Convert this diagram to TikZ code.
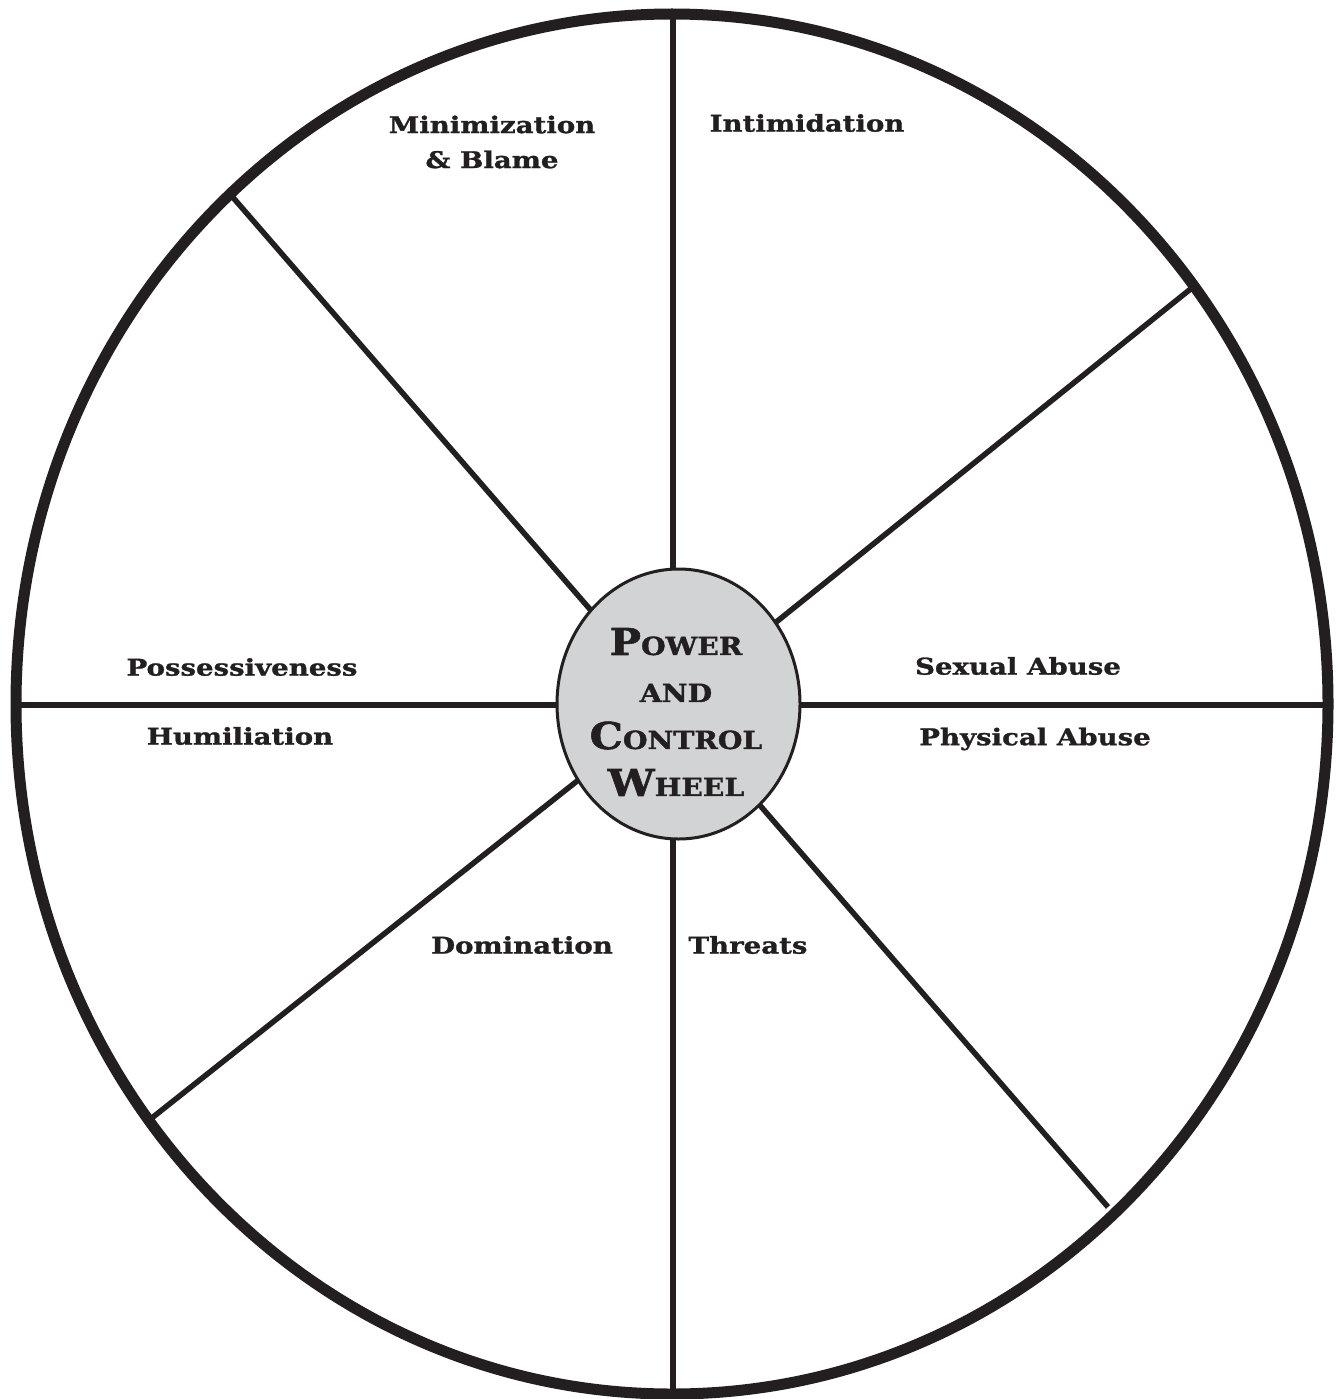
\documentclass[tikz,border=0pt]{standalone}
\usepackage{fontspec}
\usetikzlibrary{shapes.geometric}
\setmainfont{DejaVu Serif}
\newfontfamily\widefont[FakeStretch=1.2,FakeBold=1.2]{DejaVu Serif}
\newfontfamily\hubfont[FakeStretch=1.13,FakeBold=1.5]{DejaVu Serif}
\newcommand{\hubbig}[1]{{\fontsize{37}{47}\selectfont #1}}
\newcommand{\hubsmall}[1]{{\fontsize{25}{47}\selectfont #1}}
\begin{document}
\begin{tikzpicture}[x=1pt,y=-1pt,
  rim/.style={line width=11pt,draw={rgb,255:red,35;green,31;blue,32}},
  spoke/.style={line width=5.5pt,draw={rgb,255:red,35;green,31;blue,32}},
  lab/.style={font=\widefont\bfseries\fontsize{23}{35}\selectfont,text={rgb,255:red,35;green,31;blue,32},align=center,inner sep=0pt},
  hubstyle/.style={ellipse,draw={rgb,255:red,35;green,31;blue,32},line width=3pt,fill={rgb,255:red,209;green,211;blue,212},minimum width=243pt,minimum height=270pt,inner sep=0pt},
  hubtxt/.style={font=\hubfont\bfseries\fontsize{25}{47}\selectfont,text={rgb,255:red,35;green,31;blue,32},align=center,inner sep=0pt}
]
\useasboundingbox (0,0) rectangle (1340,1399);
\fill[white] (0,0) rectangle (1340,1399);
\coordinate (c) at (673,705);
\coordinate (oT) at (673,14);
\coordinate (oB) at (673,1396);
\coordinate (oL) at (16,705);
\coordinate (oR) at (1328,705);
\coordinate (oUL) at (230,194);
\coordinate (oUR) at (1193,287);
\coordinate (oLL) at (148,1121);
\coordinate (eLR) at (1108,1207);
\foreach \p in {oT,oB,oL,oR,oUL,oUR,oLL,eLR}{\draw[spoke] (c) -- (\p);}
\draw[rim] (672,704) ellipse [x radius=656pt, y radius=690pt];
\node[hubstyle] (hub) at (678.5,704) {};
\node[hubtxt] (hubtext) at (676,712)
  {\hubbig{P}\hubsmall{OWER}\\
   \hubsmall{AND}\\
   \hubbig{C}\hubsmall{ONTROL}\\
   \hubbig{W}\hubsmall{HEEL}};
\node[lab] (minim) at (492,142) {Minimization\\\& Blame};
\node[lab] (intim) at (807,123) {Intimidation};
\node[lab] (poss) at (242,667) {Possessiveness};
\node[lab] (humil) at (240,736) {Humiliation};
\node[lab] (sex) at (1018,666) {Sexual Abuse};
\node[lab] (phys) at (1035,739) {Physical Abuse};
\node[lab] (domin) at (522,945) {Domination};
\node[lab] (threat) at (748,945) {Threats};
\end{tikzpicture}
\end{document}
